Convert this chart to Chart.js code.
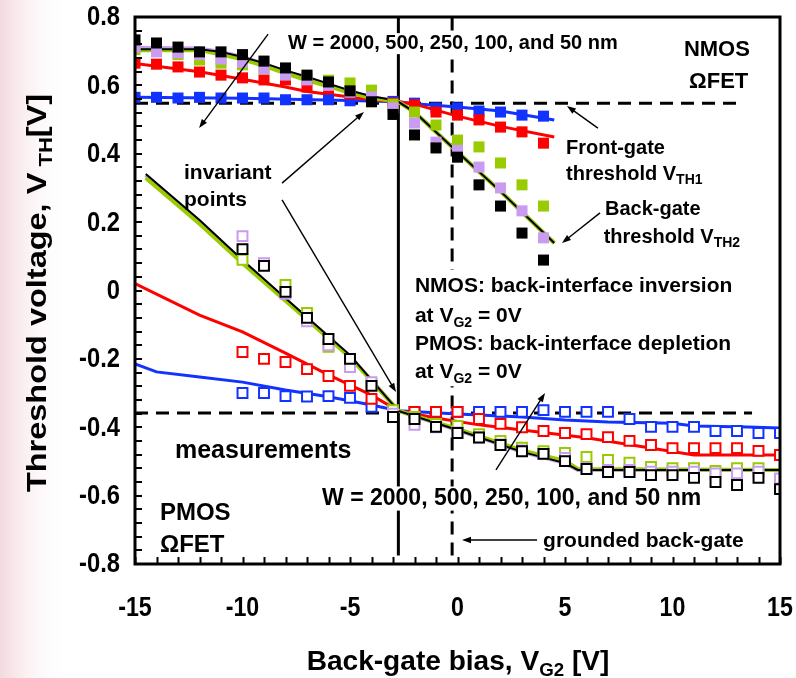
<!DOCTYPE html>
<html>
<head>
<meta charset="utf-8">
<script src="https://cdn.jsdelivr.net/npm/chart.js@4.4.1/dist/chart.umd.min.js"></script>
<style>
  html, body { margin: 0; padding: 0; background: #fff; }
  #wrap { position: relative; width: 796px; height: 678px; }
</style>
</head>
<body>
<div id="wrap"><canvas id="vth" width="796" height="678"></canvas></div>
<script>
// ── Back-gate bias sweep points ──────────────────────
const VG2_N = [-15, -14, -13, -12, -11, -10, -9, -8, -7, -6, -5, -4, -3, -2, -1, 0, 1, 2, 3, 4];
const VG2_P = [-10, -9, -8, -7, -6, -5, -4, -3, -2, -1, 0, 1, 2, 3, 4, 5, 6, 7, 8, 9, 10, 11, 12, 13, 14, 15];

// NMOS measured V_TH (filled squares), W = 2000/500/250/100/50 nm
const N_BLACK  = [0.733, 0.724, 0.712, 0.698, 0.698, 0.690, 0.671, 0.651, 0.630, 0.610, 0.584, 0.552, 0.515, 0.455, 0.417, 0.390, 0.309, 0.247, 0.168, 0.089];
const N_PURPLE = [0.712, 0.698, 0.695, 0.690, 0.677, 0.668, 0.648, 0.630, 0.616, 0.600, 0.580, 0.566, 0.534, 0.490, 0.434, 0.410, 0.361, 0.300, 0.233, 0.154];
const N_GREEN  = [0.705, 0.700, 0.690, 0.674, 0.665, 0.660, 0.648, 0.638, 0.625, 0.615, 0.607, 0.586, 0.545, 0.522, 0.484, 0.440, 0.420, 0.373, 0.309, 0.247];
const N_RED    = [0.665, 0.662, 0.654, 0.639, 0.630, 0.622, 0.616, 0.616, 0.595, 0.590, 0.575, 0.557, 0.548, 0.543, 0.522, 0.513, 0.499, 0.478, 0.464, 0.431];
const N_BLUE   = [0.565, 0.565, 0.563, 0.565, 0.563, 0.563, 0.563, 0.558, 0.558, 0.558, 0.555, 0.555, 0.553, 0.548, 0.534, 0.534, 0.525, 0.522, 0.513, 0.510];

// PMOS measured V_TH (open squares)
const P_BLACK  = [0.121, 0.072, -0.004, -0.080, -0.142, -0.200, -0.279, -0.370, -0.376, -0.399, -0.417, -0.430, -0.452, -0.470, -0.478, -0.499, -0.522, -0.531, -0.531, -0.540, -0.540, -0.548, -0.560, -0.569, -0.548, -0.581];
const P_PURPLE = [0.159, 0.080, -0.010, -0.090, -0.160, -0.224, -0.268, -0.360, -0.393, -0.400, -0.415, -0.430, -0.450, -0.468, -0.478, -0.490, -0.520, -0.525, -0.525, -0.530, -0.530, -0.530, -0.535, -0.535, -0.530, -0.550];
const P_GREEN  = [0.090, 0.075, 0.016, -0.066, -0.165, -0.210, -0.275, -0.350, -0.370, -0.390, -0.396, -0.420, -0.440, -0.460, -0.470, -0.475, -0.487, -0.496, -0.504, -0.516, -0.520, -0.520, -0.528, -0.520, -0.520, -0.554];
const P_RED    = [-0.180, -0.200, -0.209, -0.230, -0.250, -0.279, -0.317, -0.355, -0.355, -0.355, -0.355, -0.376, -0.390, -0.400, -0.411, -0.417, -0.420, -0.429, -0.440, -0.452, -0.461, -0.461, -0.461, -0.461, -0.469, -0.481];
const P_BLUE   = [-0.300, -0.300, -0.309, -0.310, -0.309, -0.314, -0.340, -0.355, -0.355, -0.355, -0.355, -0.355, -0.355, -0.355, -0.350, -0.355, -0.355, -0.355, -0.376, -0.399, -0.399, -0.399, -0.411, -0.411, -0.417, -0.417];

// simulated curves (solid lines)
const SN_X_BK = [-15, -12, -11, -10, -9, -8, -7, -6, -5, -4, -3, -2.75, -2, 0, 2, 4.5];
const SN_BLACK  = [0.706, 0.706, 0.698, 0.683, 0.665, 0.644, 0.625, 0.605, 0.585, 0.568, 0.557, 0.552, 0.522, 0.405, 0.290, 0.139];
const SN_PURPLE = [0.710, 0.708, 0.698, 0.683, 0.663, 0.640, 0.620, 0.600, 0.580, 0.565, 0.556, 0.552, 0.522, 0.405, 0.290, 0.139];
const SN_GREEN  = [0.703, 0.703, 0.690, 0.676, 0.657, 0.635, 0.615, 0.597, 0.578, 0.563, 0.555, 0.552, 0.522, 0.405, 0.290, 0.139];
const SN_X_RED = [-15, -12, -10, -8, -7, -5, -4, -2.75, -2, 0, 2, 4.5];
const SN_RED   = [0.664, 0.640, 0.618, 0.595, 0.582, 0.566, 0.558, 0.552, 0.545, 0.510, 0.480, 0.449];
const SN_X_BLUE = [-15, -10, -5, -2.75, -2, 0, 2, 4.5];
const SN_BLUE   = [0.565, 0.562, 0.556, 0.552, 0.546, 0.537, 0.525, 0.499];

const SP_X_BK = [-14.5, -12, -10, -7, -5, -2.75, 0, 3, 5, 5.6, 15];
const SP_BLACK  = [0.341, 0.206, 0.089, -0.078, -0.189, -0.352, -0.408, -0.472, -0.505, -0.525, -0.525];
const SP_PURPLE = [0.337, 0.202, 0.085, -0.082, -0.192, -0.352, -0.408, -0.472, -0.505, -0.525, -0.525];
const SP_GREEN  = [0.329, 0.195, 0.080, -0.085, -0.195, -0.352, -0.405, -0.468, -0.498, -0.522, -0.525];
const SP_X_RED = [-15, -12, -10, -8, -6, -4, -2.75, -1, 1, 3, 6, 11, 15];
const SP_RED   = [0.020, -0.072, -0.121, -0.183, -0.247, -0.306, -0.352, -0.373, -0.393, -0.408, -0.431, -0.481, -0.481];
const SP_X_BLUE = [-15, -14, -12, -10, -8, -6, -4, -2.75, 0, 3, 5, 7, 10, 11, 13.5, 15];
const SP_BLUE   = [-0.215, -0.238, -0.253, -0.268, -0.291, -0.311, -0.335, -0.352, -0.361, -0.370, -0.379, -0.385, -0.388, -0.396, -0.399, -0.402];

// reference lines: invariant-point levels and bias markers
const INV_N = 0.548, INV_P = -0.358;
const INV_N_END = 13.3, INV_P_END = 13.7;
const V_INV = -2.75, V_GND = -0.25;

// axis labels
const X_LABELS = [-15, -10, -5, 0, 5, 10, 15];
const Y_LABELS = [0.8, 0.6, 0.4, 0.2, 0, -0.2, -0.4, -0.6, -0.8];

const COL = { black: '#000000', purple: '#c99cf2', green: '#99cc00', red: '#ff0000', blue: '#1233ff' };
const FONT = 'Arial, "Liberation Sans", sans-serif';

const pts = (xs, ys) => xs.map((x, i) => ({ x, y: ys[i] }));

function marks(xs, ys, color, open, order) {
  return {
    data: pts(xs, ys), order,
    pointStyle: 'rect',
    pointRadius: open ? 7.0 : 7.8,
    pointHoverRadius: open ? 7.0 : 7.8,
    backgroundColor: open ? '#ffffff' : color,
    borderColor: color,
    borderWidth: open ? 2 : 0,
    showLine: false,
  };
}
function curve(xs, ys, color, width, order, dash) {
  return {
    data: pts(xs, ys), order,
    showLine: true, pointRadius: 0, pointHoverRadius: 0,
    borderColor: color, borderWidth: width, borderDash: dash || [],
    backgroundColor: color, fill: false, tension: 0,
  };
}

// ── annotations (data units) ─────────────────────────
const TEXTS = [
  { x: -7.88, y: 0.706, size: 20, box: true, parts: [['W = 2000, 500, 250, 100, and 50 nm']] },
  { x: 10.53, y: 0.686, size: 22, parts: [['NMOS']] },
  { x: 10.77, y: 0.592, size: 22, parts: [['ΩFET']] },
  { x: 5.05, y: 0.399, size: 20, parts: [['Front-gate']] },
  { x: 5.05, y: 0.323, size: 20, parts: [['threshold V'], ['TH1', 1]] },
  { x: 6.86, y: 0.221, size: 20, parts: [['Back-gate']] },
  { x: 6.80, y: 0.139, size: 20, parts: [['threshold V'], ['TH2', 1]] },
  { x: -12.72, y: 0.326, size: 21, parts: [['invariant']] },
  { x: -12.72, y: 0.247, size: 21, parts: [['points']] },
  { x: -1.98, y: -0.004, size: 21, parts: [['NMOS: back-interface inversion']] },
  { x: -1.98, y: -0.092, size: 21, parts: [['at V'], ['G2', 1], [' = 0V']] },
  { x: -1.98, y: -0.174, size: 21, parts: [['PMOS: back-interface depletion']] },
  { x: -1.98, y: -0.256, size: 21, parts: [['at V'], ['G2', 1], [' = 0V']] },
  { x: -13.14, y: -0.490, size: 25, parts: [['measurements']] },
  { x: -6.30, y: -0.627, size: 23, box: true, parts: [['W = 2000, 500, 250, 100, and 50 nm']] },
  { x: -13.84, y: -0.671, size: 24, parts: [['PMOS']] },
  { x: -13.84, y: -0.765, size: 24, parts: [['ΩFET']] },
  { x: 3.98, y: -0.750, size: 21, parts: [['grounded back-gate']] },
];
// box behind the NMOS/PMOS explanation block
const BLOCK_BOX = [-2.1, 0.06, 13.0, -0.28];

const ARROWS = [
  [-8.81, 0.750, -12.02, 0.475],
  [-8.16, 0.314, -4.35, 0.522],
  [-8.16, 0.265, -2.86, -0.297],
  [6.53, 0.475, 5.09, 0.540],
  [6.63, 0.227, 4.86, 0.139],
  [1.79, -0.525, 4.07, -0.300],
  [3.70, -0.730, 0.21, -0.730],
];

function richText(ctx, x, y, parts, size, sx) {
  ctx.save();
  ctx.translate(x, y);
  ctx.scale(sx, 1);
  let cx = 0;
  for (const [t, sub] of parts) {
    const fs = sub ? Math.round(size * 0.68) : size;
    ctx.font = `bold ${fs}px ${FONT}`;
    ctx.fillText(t, cx, sub ? size * 0.22 : 0);
    cx += ctx.measureText(t).width;
  }
  ctx.restore();
  return cx * sx;
}
function textWidth(ctx, parts, size) {
  let w = 0;
  for (const [t, sub] of parts) {
    ctx.font = `bold ${sub ? Math.round(size * 0.68) : size}px ${FONT}`;
    w += ctx.measureText(t).width;
  }
  return w;
}

function arrow(ctx, x1, y1, x2, y2) {
  const a = Math.atan2(y2 - y1, x2 - x1), L = 9, W = 3.2;
  ctx.beginPath();
  ctx.moveTo(x1, y1);
  ctx.lineTo(x2 - Math.cos(a) * L * 0.8, y2 - Math.sin(a) * L * 0.8);
  ctx.stroke();
  ctx.beginPath();
  ctx.moveTo(x2, y2);
  ctx.lineTo(x2 - Math.cos(a) * L + Math.sin(a) * W, y2 - Math.sin(a) * L - Math.cos(a) * W);
  ctx.lineTo(x2 - Math.cos(a) * L - Math.sin(a) * W, y2 - Math.sin(a) * L + Math.cos(a) * W);
  ctx.closePath();
  ctx.fill();
}

const decor = {
  id: 'decor',
  beforeDraw(chart) {
    const { ctx, width, height } = chart;
    ctx.save();
    ctx.fillStyle = '#fff';
    ctx.fillRect(0, 0, width, height);
    const g = ctx.createLinearGradient(0, 0, 70, 0);
    g.addColorStop(0, 'rgba(240,205,212,0.75)');
    g.addColorStop(1, 'rgba(255,255,255,0)');
    ctx.fillStyle = g;
    ctx.fillRect(0, 0, 70, height);
    ctx.restore();
  },
  afterDatasetsDraw(chart) {
    const { ctx, chartArea: a, scales: { x, y } } = chart;
    ctx.save();
    ctx.fillStyle = '#000';
    ctx.strokeStyle = '#000';
    ctx.textBaseline = 'alphabetic';

    // white block behind the explanation text
    ctx.fillStyle = '#fff';
    const bx1 = x.getPixelForValue(BLOCK_BOX[0]), by1 = y.getPixelForValue(BLOCK_BOX[1]);
    const bx2 = x.getPixelForValue(BLOCK_BOX[2]), by2 = y.getPixelForValue(BLOCK_BOX[3]);
    ctx.fillRect(bx1, by1, bx2 - bx1, by2 - by1);

    // annotation text
    for (const t of TEXTS) {
      const px = x.getPixelForValue(t.x), py = y.getPixelForValue(t.y);
      if (t.box) {
        const w = textWidth(ctx, t.parts, t.size);
        ctx.fillStyle = '#fff';
        ctx.fillRect(px - 3, py - t.size * 0.8, w + 6, t.size * 1.05);
      }
      ctx.fillStyle = '#000';
      richText(ctx, px, py, t.parts, t.size, 1);
    }

    // arrows
    ctx.lineWidth = 1.4;
    for (const [x1, y1, x2, y2] of ARROWS) {
      arrow(ctx, x.getPixelForValue(x1), y.getPixelForValue(y1), x.getPixelForValue(x2), y.getPixelForValue(y2));
    }

    // inner tick marks
    ctx.lineWidth = 2;
    ctx.beginPath();
    for (const tk of x.ticks) {
      const px = Math.round(x.getPixelForValue(tk.value)) + 0.5;
      ctx.moveTo(px, a.bottom); ctx.lineTo(px, a.bottom - 7);
    }
    for (const tk of y.ticks) {
      const py = Math.round(y.getPixelForValue(tk.value));
      ctx.moveTo(a.left, py); ctx.lineTo(a.left + 7, py);
    }
    ctx.stroke();

    // frame
    ctx.lineWidth = 3;
    ctx.strokeRect(a.left, a.top, a.right - a.left, a.bottom - a.top);

    // tick labels
    ctx.fillStyle = '#000';
    ctx.font = `bold 27px ${FONT}`;
    ctx.textBaseline = 'middle';
    for (const v of X_LABELS) {
      const px = x.getPixelForValue(v);
      ctx.save();
      ctx.translate(px, 609);
      ctx.scale(0.86, 1);
      ctx.textAlign = 'center';
      ctx.fillText(String(v), 0, 0);
      ctx.restore();
    }
    for (const v of Y_LABELS) {
      const py = y.getPixelForValue(v);
      ctx.save();
      ctx.translate(120, py + 1);
      ctx.scale(0.88, 1);
      ctx.textAlign = 'right';
      ctx.fillText(v === 0 ? '0' : v.toFixed(1), 0, 0);
      ctx.restore();
    }

    // axis titles
    ctx.textBaseline = 'alphabetic';
    ctx.textAlign = 'left';
    const xt = [['Back-gate bias, V'], ['G2', 1], [' [V]']];
    const xw = textWidth(ctx, xt, 27) * 1.04;
    richText(ctx, 458 - xw / 2, 670, xt, 27, 1.04);

    const yt = [['Threshold voltage, V'], [' TH', 1], ['[V]']];
    const yw = textWidth(ctx, yt, 28) * 1.16;
    ctx.save();
    ctx.translate(46, 293);
    ctx.rotate(-Math.PI / 2);
    richText(ctx, -yw / 2, 0, yt, 28, 1.16);
    ctx.restore();

    ctx.restore();
  },
};

new Chart(document.getElementById('vth'), {
  type: 'scatter',
  data: {
    datasets: [
      // NMOS measured
      marks(VG2_N, N_BLACK, COL.black, false, 1),
      marks(VG2_N, N_PURPLE, COL.purple, false, 2),
      marks(VG2_N, N_GREEN, COL.green, false, 3),
      marks(VG2_N, N_RED, COL.red, false, 4),
      marks(VG2_N, N_BLUE, COL.blue, false, 5),
      // PMOS measured
      marks(VG2_P, P_BLACK, COL.black, true, 1),
      marks(VG2_P, P_PURPLE, COL.purple, true, 2),
      marks(VG2_P, P_GREEN, COL.green, true, 3),
      marks(VG2_P, P_RED, COL.red, true, 4),
      marks(VG2_P, P_BLUE, COL.blue, true, 5),
      // simulated
      curve(SN_X_BK, SN_BLACK, COL.black, 2, 10),
      curve(SN_X_BK, SN_PURPLE, COL.purple, 4, 12),
      curve(SN_X_BK, SN_GREEN, COL.green, 4, 11),
      curve(SN_X_RED, SN_RED, COL.red, 3, 13),
      curve(SN_X_BLUE, SN_BLUE, COL.blue, 3, 14),
      curve(SP_X_BK, SP_BLACK, COL.black, 2, 10),
      curve(SP_X_BK, SP_PURPLE, COL.purple, 4, 12),
      curve(SP_X_BK, SP_GREEN, COL.green, 4, 11),
      curve(SP_X_RED, SP_RED, COL.red, 3, 13),
      curve(SP_X_BLUE, SP_BLUE, COL.blue, 3, 14),
      // reference lines
      curve([-15, INV_N_END], [INV_N, INV_N], COL.black, 3, 20, [13, 8]),
      curve([-15, INV_P_END], [INV_P, INV_P], COL.black, 3, 20, [13, 8]),
      curve([V_INV, V_INV], [-0.775, 0.8], COL.black, 3, 20),
      curve([V_GND, V_GND], [-0.775, 0.8], COL.black, 3, 20, [13, 8]),
    ],
  },
  options: {
    responsive: false,
    animation: false,
    devicePixelRatio: 1,
    layout: { padding: { left: 0, top: 17, right: 16, bottom: 0 } },
    plugins: { legend: { display: false }, tooltip: { enabled: false } },
    scales: {
      x: {
        type: 'linear', min: -15, max: 15,
        ticks: { display: false, stepSize: 1 },
        grid: { display: false }, border: { display: false },
        afterFit: s => { s.height = 114; },
      },
      y: {
        type: 'linear', min: -0.8, max: 0.8,
        ticks: { display: false, stepSize: 0.04 },
        grid: { display: false }, border: { display: false },
        afterFit: s => { s.width = 135; },
      },
    },
  },
  plugins: [decor],
});
</script>
</body>
</html>
